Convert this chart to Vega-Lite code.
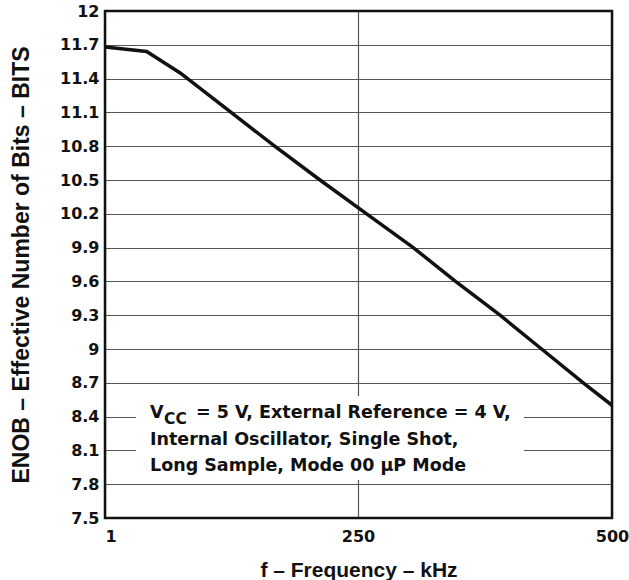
{
  "$schema": "https://vega.github.io/schema/vega-lite/v6.json",
  "width": 507,
  "height": 507,
  "autosize": {"type": "none"},
  "padding": {"left": 105, "top": 11, "right": 17, "bottom": 62},
  "background": "white",
  "config": {
    "view": {"stroke": null},
    "font": "DejaVu Sans",
    "axis": {
      "labelFont": "DejaVu Sans",
      "labelFontWeight": "bold",
      "labelFontSize": 16,
      "labelColor": "#111111",
      "labelOverlap": false,
      "titleFont": "Liberation Sans",
      "titleFontWeight": "bold",
      "titleColor": "#111111",
      "ticks": false,
      "tickSize": 0,
      "domain": false,
      "grid": true,
      "gridColor": "#555555",
      "gridWidth": 1.2,
      "gridOpacity": 1
    }
  },
  "data": {
    "values": [
      {"f": 1, "enob": 11.68},
      {"f": 42, "enob": 11.64},
      {"f": 75, "enob": 11.45},
      {"f": 121, "enob": 11.13},
      {"f": 168, "enob": 10.8},
      {"f": 212.6, "enob": 10.5},
      {"f": 258.5, "enob": 10.2},
      {"f": 304.4, "enob": 9.9},
      {"f": 346, "enob": 9.6},
      {"f": 389.8, "enob": 9.3},
      {"f": 430.7, "enob": 9.0},
      {"f": 471.7, "enob": 8.7},
      {"f": 500, "enob": 8.5}
    ]
  },
  "encoding": {
    "x": {
      "field": "f",
      "type": "quantitative",
      "scale": {"domain": [1, 500], "nice": false, "zero": false},
      "axis": {
        "values": [1, 250, 500],
        "format": "d",
        "labelPadding": 10,
        "labelAlign": {"condition": {"test": "datum.value == 1", "value": "left"}, "value": "center"},
        "title": "f – Frequency – kHz",
        "titleFontSize": 21,
        "titlePadding": 15
      }
    },
    "y": {
      "field": "enob",
      "type": "quantitative",
      "scale": {"domain": [7.5, 12], "nice": false, "zero": false},
      "axis": {
        "values": [7.5, 7.8, 8.1, 8.4, 8.7, 9, 9.3, 9.6, 9.9, 10.2, 10.5, 10.8, 11.1, 11.4, 11.7, 12],
        "format": ".1~f",
        "labelPadding": 6,
        "title": "ENOB – Effective Number of Bits – BITS",
        "titleFontSize": 23,
        "titlePadding": 26
      }
    }
  },
  "layer": [
    {
      "transform": [{"filter": "datum.f == 1"}],
      "mark": {"type": "rect", "fill": "white", "stroke": null},
      "encoding": {
        "x": {"datum": 31.5},
        "x2": {"datum": 413.4},
        "y": {"datum": 7.837},
        "y2": {"datum": 8.583}
      }
    },
    {
      "transform": [{"filter": "datum.f == 1"}],
      "mark": {"type": "text", "text": "V", "align": "left", "baseline": "alphabetic", "font": "DejaVu Sans", "fontWeight": "bold", "fontSize": 17.5, "color": "#111111"},
      "encoding": {"x": {"datum": 45.3}, "y": {"datum": 8.3876}}
    },
    {
      "transform": [{"filter": "datum.f == 1"}],
      "mark": {"type": "text", "text": "CC", "align": "left", "baseline": "alphabetic", "font": "DejaVu Sans", "fontWeight": "bold", "fontSize": 15.5, "color": "#111111"},
      "encoding": {"x": {"datum": 59.1}, "y": {"datum": 8.334}}
    },
    {
      "transform": [{"filter": "datum.f == 1"}],
      "mark": {"type": "text", "text": "= 5 V, External Reference = 4 V,", "align": "left", "baseline": "alphabetic", "font": "DejaVu Sans", "fontWeight": "bold", "fontSize": 17.5, "color": "#111111"},
      "encoding": {"x": {"datum": 90.6}, "y": {"datum": 8.3876}}
    },
    {
      "transform": [{"filter": "datum.f == 1"}],
      "mark": {"type": "text", "text": "Internal Oscillator, Single Shot,", "align": "left", "baseline": "alphabetic", "font": "DejaVu Sans", "fontWeight": "bold", "fontSize": 17.5, "color": "#111111"},
      "encoding": {"x": {"datum": 45.3}, "y": {"datum": 8.152}}
    },
    {
      "transform": [{"filter": "datum.f == 1"}],
      "mark": {"type": "text", "text": "Long Sample, Mode 00 µP Mode", "align": "left", "baseline": "alphabetic", "font": "DejaVu Sans", "fontWeight": "bold", "fontSize": 17.5, "color": "#111111"},
      "encoding": {"x": {"datum": 45.3}, "y": {"datum": 7.917}}
    },
    {
      "mark": {"type": "line", "color": "#111111", "strokeWidth": 3.5, "clip": true}
    },
    {
      "transform": [{"filter": "datum.f == 1"}],
      "mark": {"type": "rect", "fill": "transparent", "stroke": "#111111", "strokeWidth": 2.5},
      "encoding": {
        "x": {"datum": 1},
        "x2": {"datum": 500},
        "y": {"datum": 7.5},
        "y2": {"datum": 12}
      }
    }
  ]
}
